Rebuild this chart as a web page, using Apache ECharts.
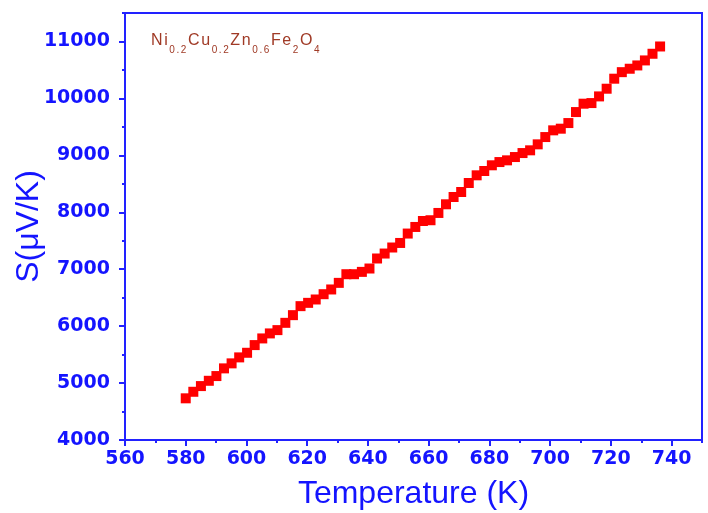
<!DOCTYPE html>
<html>
<head>
<meta charset="utf-8">
<script src="https://cdn.jsdelivr.net/npm/echarts@6/dist/echarts.min.js"></script>
<style>
  html, body { margin: 0; padding: 0; background: #fff; }
  #main { width: 708px; height: 513px; }
</style>
</head>
<body>
<div id="main"></div>
<script>
// temperature (K)
var temps = [
  580.0, 582.5, 585.0, 587.6, 590.1, 592.6, 595.1, 597.6, 600.2, 602.7,
  605.2, 607.7, 610.2, 612.8, 615.3, 617.8, 620.3, 622.8, 625.4, 627.9,
  630.4, 632.9, 635.4, 638.0, 640.5, 643.0, 645.5, 648.0, 650.6, 653.1,
  655.6, 658.1, 660.6, 663.2, 665.7, 668.2, 670.7, 673.2, 675.8, 678.3,
  680.8, 683.3, 685.8, 688.4, 690.9, 693.4, 695.9, 698.4, 701.0, 703.5,
  706.0, 708.5, 711.0, 713.6, 716.1, 718.6, 721.1, 723.6, 726.2, 728.7,
  731.2, 733.7, 736.2
];
// Seebeck coefficient S (uV/K)
var seebeck = [
  4732, 4847, 4947, 5040, 5123, 5258, 5346, 5451, 5532, 5667,
  5784, 5872, 5930, 6058, 6193, 6351, 6409, 6468, 6561, 6644,
  6760, 6912, 6912, 6953, 7012, 7188, 7275, 7381, 7461, 7626,
  7742, 7847, 7860, 7988, 8140, 8268, 8356, 8514, 8649, 8725,
  8825, 8882, 8912, 8970, 9040, 9088, 9193, 9321, 9439, 9468,
  9567, 9760, 9907, 9918, 10035, 10170, 10346, 10461, 10521, 10579,
  10667, 10784, 10912
];
var xTicks = [560, 580, 600, 620, 640, 660, 680, 700, 720, 740];
var yTicks = [4000, 5000, 6000, 7000, 8000, 9000, 10000, 11000];
// sample formula: [text, isSubscript]
var formula = [['Ni', 0], ['0.2', 1], ['Cu', 0], ['0.2', 1], ['Zn', 0],
  ['0.6', 1], ['Fe', 0], ['2', 1], ['O', 0], ['4', 1]];

var blue = '#2222ff';
var labelBlue = '#1414ff';
var formulaColor = '#a03a26';

var chart = echarts.init(document.getElementById('main'));

var points = [];
for (var i = 0; i < temps.length; i++) {
  points.push([temps[i], seebeck[i]]);
}

// lay the formula out char by char (letter-spaced, subscripts lowered)
var ctx = document.createElement('canvas').getContext('2d');
var formulaEls = [];
var fx = 151;
formula.forEach(function (p) {
  var size = p[1] ? 10 : 16;
  ctx.font = size + 'px "Liberation Sans"';
  p[0].split('').forEach(function (c) {
    formulaEls.push({
      type: 'text',
      x: fx,
      y: p[1] ? 50 : 41,
      style: {
        text: c,
        fontFamily: 'Liberation Sans',
        fontSize: size,
        fill: formulaColor,
        verticalAlign: 'middle'
      }
    });
    fx += ctx.measureText(c).width + 1.6;
  });
});

var labelFont = {
  color: labelBlue,
  fontFamily: 'DejaVu Sans',
  fontWeight: 'bold',
  fontSize: 19,
  formatter: function (v) { return String(v); }
};

var option = {
  animation: false,
  backgroundColor: '#fff',
  grid: {
    left: 125,
    right: 6,
    top: 13,
    bottom: 73,
    outerBoundsMode: 'none',
    containLabel: false,
    show: true,
    borderColor: blue,
    borderWidth: 2
  },
  xAxis: [
    {
      type: 'value',
      min: 560,
      max: 750,
      interval: 20,
      name: 'Temperature (K)',
      nameLocation: 'middle',
      nameGap: 38,
      nameMoveOverlap: false,
      nameTextStyle: { color: labelBlue, fontFamily: 'Liberation Sans', fontSize: 32 },
      axisLine: { show: true, lineStyle: { color: blue, width: 2 } },
      axisTick: { show: true, inside: false, length: 6, lineStyle: { color: blue, width: 2 }, customValues: xTicks },
      axisLabel: Object.assign({ margin: 10, customValues: xTicks }, labelFont),
      splitLine: { show: false }
    },
    {
      type: 'value',
      position: 'bottom',
      min: 560,
      max: 750,
      interval: 10,
      axisLine: { show: false },
      axisTick: { show: true, inside: false, length: 3, lineStyle: { color: blue, width: 2 } },
      axisLabel: { show: false },
      splitLine: { show: false }
    }
  ],
  yAxis: [
    {
      type: 'value',
      min: 4000,
      max: 11500,
      interval: 1000,
      name: 'S(\u03bcV/K)',
      nameLocation: 'middle',
      nameRotate: 90,
      nameGap: 80,
      nameMoveOverlap: false,
      nameTextStyle: { color: labelBlue, fontFamily: 'Liberation Sans', fontSize: 32 },
      axisLine: { show: true, lineStyle: { color: blue, width: 2 } },
      axisTick: { show: true, inside: false, length: 6, lineStyle: { color: blue, width: 2 }, customValues: yTicks },
      axisLabel: Object.assign({ margin: 15, customValues: yTicks }, labelFont),
      splitLine: { show: false }
    },
    {
      type: 'value',
      position: 'left',
      min: 4000,
      max: 11500,
      interval: 500,
      axisLine: { show: false },
      axisTick: { show: true, inside: false, length: 3, lineStyle: { color: blue, width: 2 } },
      axisLabel: { show: false },
      splitLine: { show: false }
    }
  ],
  graphic: formulaEls,
  series: [
    {
      type: 'scatter',
      xAxisIndex: 0,
      yAxisIndex: 0,
      symbol: 'rect',
      symbolSize: 10,
      itemStyle: { color: '#ff0000', opacity: 1 },
      data: points
    }
  ]
};

chart.setOption(option);
</script>
</body>
</html>
